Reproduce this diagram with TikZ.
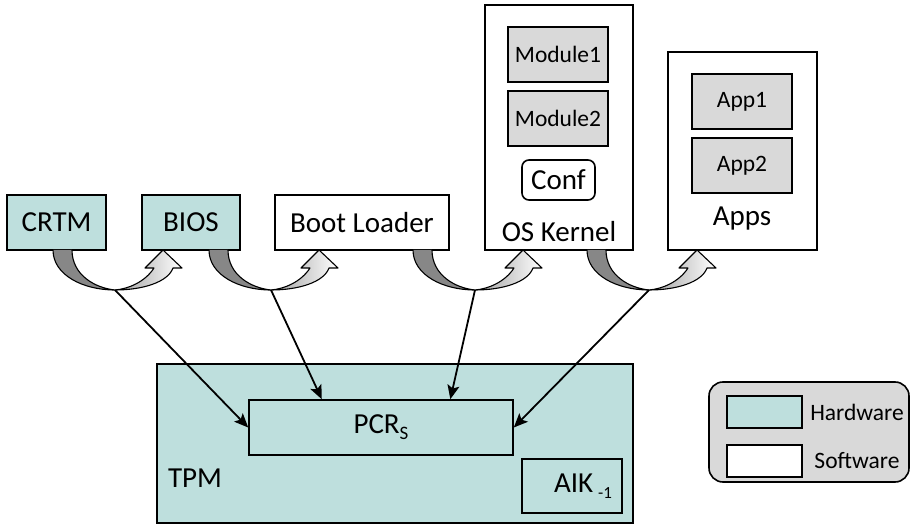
\documentclass[tikz,border=0pt]{standalone}
\usepackage{fontspec}
\setmainfont{Carlito}
\usetikzlibrary{arrows.meta,calc}
\definecolor{hw}{RGB}{190,223,221}
\definecolor{lg}{RGB}{217,217,217}
\definecolor{ag}{RGB}{135,135,135}
\tikzset{
  bigfont/.style={font=\fontsize{29}{31}\selectfont},
  smallfont/.style={font=\fontsize{23.5}{26}\selectfont},
  hwbox/.style={draw=black, fill=hw, line width=1.6pt, inner sep=0pt, bigfont},
  swbox/.style={draw=black, fill=white, line width=1.6pt, inner sep=0pt, bigfont},
  gbox/.style={draw=black, fill=lg, line width=1.6pt, inner sep=0pt, smallfont},
  lbl/.style={inner sep=0pt, bigfont},
  arr/.style={line width=1.8pt, -{Stealth[length=14pt,width=12pt,inset=3pt]}},
}
\newcommand\curvarrow[1]{%
\begin{scope}[shift={(#1,250)}]
 \fill[ag] (0,0) .. controls (0,25) and (30,40) .. (62,40) .. controls (42,38) and (19,25) .. (19,0) -- cycle;
 \shade[left color=ag!80, right color=white] (62,40) .. controls (90,40) and (115,32) .. (120,18) -- (129,18) -- (110,0) -- (92,18) -- (101,18) .. controls (92,32) and (75,39) .. (62,40) -- cycle;
 \draw[line width=1.1pt, line join=round] (0,0) .. controls (0,25) and (30,40) .. (62,40) .. controls (90,40) and (115,32) .. (120,18) -- (129,18) -- (110,0) -- (92,18) -- (101,18) .. controls (92,32) and (75,39) .. (62,40) .. controls (42,38) and (19,25) .. (19,0);
\end{scope}}
\begin{document}
\begin{tikzpicture}[x=1pt,y=-1pt]
\useasboundingbox (0,0) rectangle (913,526);
% top row
\node[hwbox, minimum width=99, minimum height=55] (crtm) at (56.5,222.5) {CRTM};
\node[hwbox, minimum width=98, minimum height=55] (bios) at (191,222.5) {BIOS};
\node[swbox, minimum width=174, minimum height=55] (boot) at (362,222.5) {Boot Loader};
\node[swbox, minimum width=148, minimum height=245] (os) at (559,127.5) {};
\node[lbl] (ostext) at (559,232) {OS Kernel};
\node[gbox, minimum width=100, minimum height=55] (mod1) at (558,54.5) {Module1};
\node[gbox, minimum width=100, minimum height=55] (mod2) at (558,118.5) {Module2};
\node[swbox, rounded corners=7pt, minimum width=73, minimum height=40] (conf) at (558.5,180) {Conf};
\node[swbox, minimum width=149, minimum height=198] (apps) at (742.5,151) {};
\node[lbl] (appstext) at (742,219) {Apps};
\node[gbox, minimum width=100, minimum height=55] (app1) at (742,101.5) {App1};
\node[gbox, minimum width=100, minimum height=55] (app2) at (742,165.5) {App2};
% curved arrows
\curvarrow{53}
\curvarrow{209}
\curvarrow{413}
\curvarrow{587}
\coordinate (c1) at (115,290);
\coordinate (c2) at (271,290);
\coordinate (c3) at (475,290);
\coordinate (c4) at (649,290);
% TPM
\node[hwbox, minimum width=476, minimum height=159] (tpm) at (395,443.5) {};
\node[lbl] (tpmtext) at (195,478) {TPM};
\node[hwbox, minimum width=264, minimum height=55] (pcr) at (381,427.5) {PCR\raisebox{-6pt}{\fontsize{19}{19}\selectfont S}};
\node[hwbox, minimum width=100, minimum height=54] (aik) at (572,486) {};
\node[lbl] (aiktext) at (583,486) {AIK\,\raisebox{-6pt}{\fontsize{17}{17}\selectfont -1}};
% connectors
\draw[arr] (c1) -- (pcr.west);
\draw[arr] (c2) -- ($(pcr.north west)!0.277!(pcr.north east)$);
\draw[arr] (c3) -- ($(pcr.north west)!0.761!(pcr.north east)$);
\draw[arr] (c4) -- (pcr.east);
% legend
\node[draw=black, fill=lg, line width=1.6pt, rounded corners=14pt, minimum width=200, minimum height=100] (legend) at (809,432) {};
\node[hwbox, minimum width=75, minimum height=32] (lhw) at (764.5,412) {};
\node[swbox, minimum width=75, minimum height=32] (lsw) at (764.5,461) {};
\node[inner sep=0pt, smallfont] (lhwt) at (857,412) {Hardware};
\node[inner sep=0pt, smallfont] (lswt) at (857,461) {Software};
\end{tikzpicture}
\end{document}
